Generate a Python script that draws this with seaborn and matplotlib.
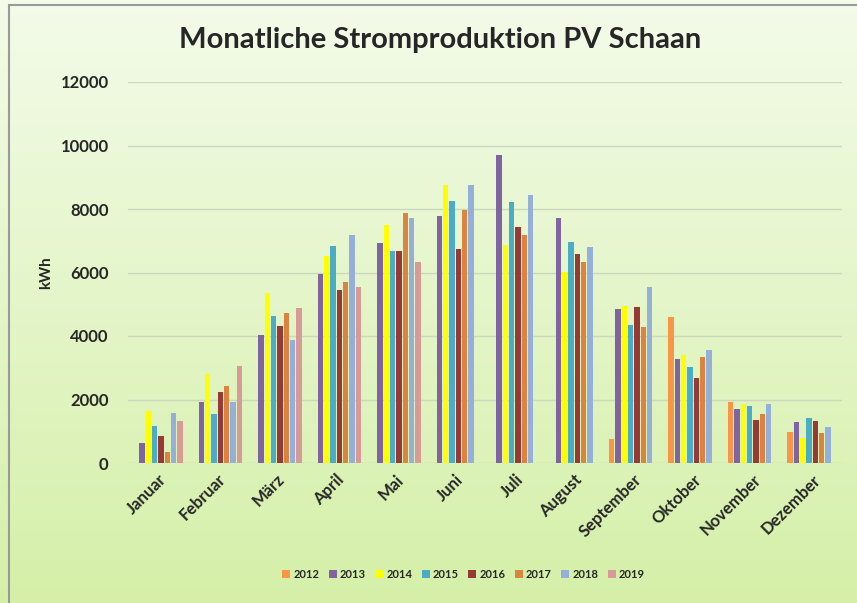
import numpy as np
import pandas as pd
import matplotlib
matplotlib.use("Agg")
import matplotlib.pyplot as plt
import seaborn as sns
from matplotlib.patches import Rectangle

months = ["Januar", "Februar", "März", "April", "Mai", "Juni", "Juli",
          "August", "September", "Oktober", "November", "Dezember"]
years = ["2012", "2013", "2014", "2015", "2016", "2017", "2018", "2019"]
nan = np.nan
v2012 = [nan, nan, nan, nan, nan, nan, nan, nan, 770, 4590, 1920, 965]
v2013 = [640, 1920, 4020, 5950, 6930, 7790, 9690, 7730, 4840, 3260, 1700, 1280]
v2014 = [1650, 2815, 5355, 6510, 7485, 8760, 6870, 6025, 4940, 3400, 1860, 775]
v2015 = [1165, 1535, 4615, 6845, 6690, 8250, 8215, 6970, 4345, 3030, 1810, 1410]
v2016 = [860, 2235, 4300, 5460, 6690, 6740, 7425, 6575, 4920, 2680, 1345, 1315]
v2017 = [350, 2410, 4730, 5700, 7875, 7955, 7185, 6340, 4290, 3345, 1535, 935]
v2018 = [1590, 1935, 3865, 7170, 7705, 8765, 8435, 6815, 5535, 3555, 1865, 1125]
v2019 = [1325, 3050, 4870, 5555, 6330, nan, nan, nan, nan, nan, nan, nan]
colors = ["#F79646", "#8064A2", "#FFFF00", "#4BACC6", "#973A36",
          "#DB8440", "#95B0D8", "#D89A96"]

series = [v2012, v2013, v2014, v2015, v2016, v2017, v2018, v2019]
rows = []
for y, vals in zip(years, series):
    for m, v in zip(months, vals):
        rows.append({"Monat": m, "Jahr": y, "kWh": v})
df = pd.DataFrame(rows)

sns.set_theme(style="white")
plt.rcParams["font.family"] = ["Lato", "DejaVu Sans"]

W, H = 857, 603
fig = plt.figure(figsize=(W / 100, H / 100), dpi=100)

# gradient background
bg = fig.add_axes([0, 0, 1, 1], zorder=0)
grad = np.linspace(0, 1, 256).reshape(-1, 1)
top = np.array([0.955, 0.985, 0.915])
bot = np.array([0.835, 0.940, 0.660])
img = top[None, None, :] * (1 - grad[..., None]) + bot[None, None, :] * grad[..., None]
bg.imshow(img, aspect="auto", extent=[0, 1, 0, 1], origin="upper")
bg.set_xlim(0, 1)
bg.set_ylim(0, 1)
bg.axis("off")
bg.add_patch(Rectangle((9 / W, -0.1), 1.2, 1 - 5 / H + 0.1, fill=False,
                       edgecolor="#9A9A9A", linewidth=1.5))

ax = fig.add_axes([128 / W, 1 - 463 / H, 714 / W, (463 - 82) / H], zorder=1)
ax.set_facecolor("none")
sns.barplot(data=df, x="Monat", y="kWh", hue="Jahr", order=months,
            hue_order=years, palette=colors, width=0.85, gap=0.16,
            errorbar=None, ax=ax, saturation=1, linewidth=0)

ax.set_ylim(0, 12000)
ax.set_yticks(range(0, 12001, 2000))
ax.set_xlim(-0.5, 11.5)
ax.grid(axis="y", color="#CBD8BE", linewidth=1)
ax.set_axisbelow(True)
for s in ax.spines.values():
    s.set_visible(False)
ax.tick_params(axis="both", length=0)
ax.tick_params(axis="y", pad=14)
for lab in ax.get_yticklabels():
    lab.set_fontweight("bold")
    lab.set_fontsize(12)
ax.set_xticks(range(len(months)))
ax.set_xticklabels(months, rotation=45, ha="right", rotation_mode="anchor",
                   fontsize=12, fontweight="bold")
ax.tick_params(axis="x", pad=6)
ax.set_xlabel("")
ax.set_ylabel("kWh", fontsize=11, fontweight="bold", labelpad=5)

handles, labels = ax.get_legend_handles_labels()
ax.legend_.remove()
fig.legend(handles, labels, loc="center", bbox_to_anchor=(0.541, 0.047),
           ncol=8, frameon=False, handlelength=0.7, handleheight=0.7,
           handletextpad=0.3, columnspacing=0.85,
           prop={"family": ["Lato", "DejaVu Sans"], "weight": "bold", "size": 8})

fig.text(0.514, 1 - 40 / H, "Monatliche Stromproduktion PV Schaan",
         ha="center", va="center", fontsize=21, fontweight="bold")

fig.savefig("out.png", dpi=100)
